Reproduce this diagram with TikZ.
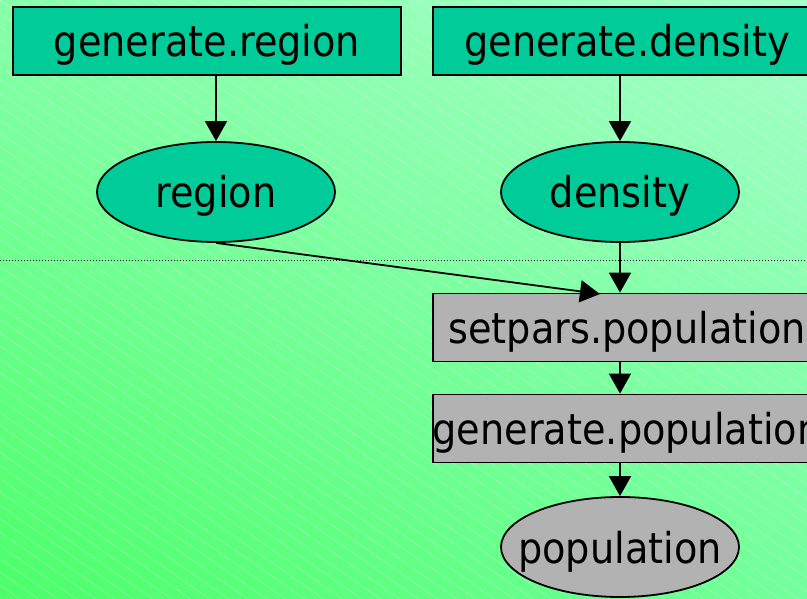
\documentclass[tikz,border=0pt]{standalone}
\usepackage{fontspec}
\setmainfont{DejaVu Sans Condensed}
\usetikzlibrary{arrows.meta,shapes.geometric,shadings}
\definecolor{boxgreen}{RGB}{0,204,153}
\definecolor{boxgrey}{RGB}{178,178,178}
\definecolor{bgtl}{RGB}{135,255,170}
\definecolor{bgtr}{RGB}{165,255,200}
\definecolor{bgbl}{RGB}{75,255,105}
\definecolor{bgbr}{RGB}{115,255,155}
\tikzset{job/.style={draw, line width=1.8pt, rectangle, minimum width=388pt, minimum height=68pt, inner xsep=-30pt, inner ysep=0pt, text height=32pt, text depth=0pt}}
\tikzset{datum/.style={draw, line width=1.8pt, ellipse, minimum width=238pt, minimum height=100pt, inner xsep=-40pt, inner ysep=0pt, text height=32pt, text depth=0pt}}
\tikzset{arr/.style={line width=1.8pt, -{Triangle[length=20pt,width=22pt]}}}
\tikzset{hatch/.style={white, opacity=.45, line width=.6pt, dash pattern=on 2pt off 1pt}}

\begin{document}
\begin{tikzpicture}[x=1pt, y=-1pt, font=\fontsize{42.5}{48}\selectfont]
\clip (0,0) rectangle (807,599);
\shade[upper left=bgtl, upper right=bgtr, lower left=bgbl, lower right=bgbr] (0,0) rectangle (807,599);
\foreach \i in {-45,...,45} \draw[hatch] (\i*19,0) -- ++(1000,700);
\draw[dotted, line width=1pt] (0,261) -- (807,261);
% nodes
\node[job, fill=boxgreen] (genreg) at (207,41) {generate.region};
\node[job, fill=boxgreen] (genden) at (627,41) {generate.density};
\node[datum, fill=boxgreen] (reg) at (216,192) {region};
\node[datum, fill=boxgreen] (den) at (620,192) {density};
\node[job, fill=boxgrey] (setpop) at (627,327.5) {setpars.population};
\node[job, fill=boxgrey] (genpop) at (627,428.5) {generate.population};
\node[datum, fill=boxgrey] (pop) at (620,547) {population};
\coordinate (setin) at (600,294);
% arrows
\draw[arr] (reg.north |- genreg.south) -- (reg.north);
\draw[arr] (den.north |- genden.south) -- (den.north);
\draw[arr] (reg.south) -- (setin);
\draw[arr] (den.south) -- (den.south |- setpop.north);
\draw[arr] (den.south |- setpop.south) -- (den.south |- genpop.north);
\draw[arr] (pop.north |- genpop.south) -- (pop.north);
\end{tikzpicture}
\end{document}
